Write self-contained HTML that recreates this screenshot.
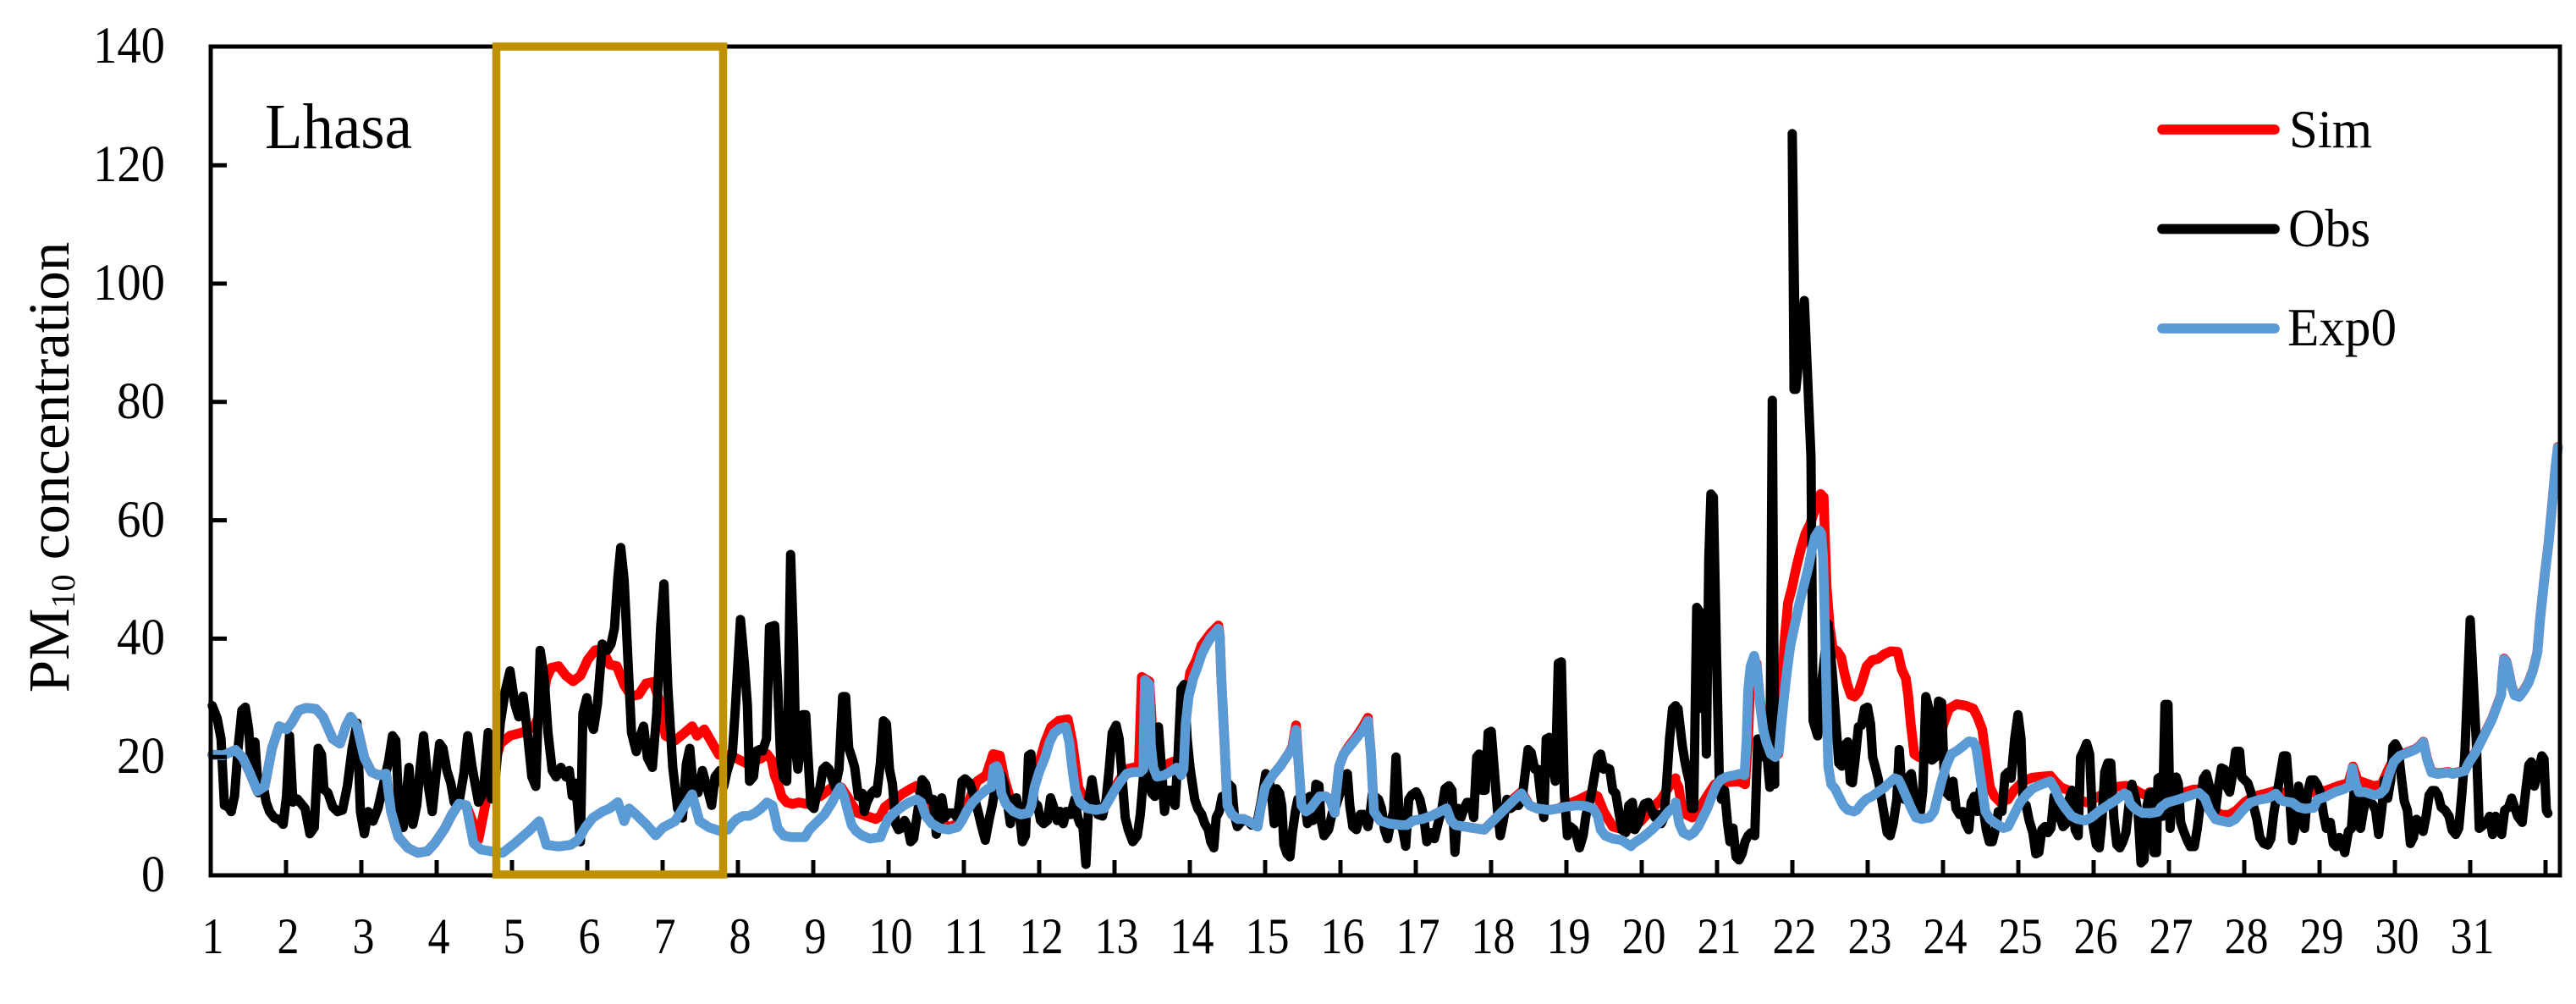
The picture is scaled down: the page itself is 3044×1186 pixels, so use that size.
<!DOCTYPE html>
<html><head><meta charset="utf-8"><style>html,body{margin:0;padding:0;background:#fff}svg{display:block}</style></head>
<body>
<svg xmlns="http://www.w3.org/2000/svg" width="3044" height="1186" viewBox="0 0 3044 1186" font-family="'Liberation Serif','Times New Roman',serif">
<rect width="3044" height="1186" fill="#fff"/>

<!-- Sim (red) -->
<g fill="none" stroke="#FF0000" stroke-linejoin="round" stroke-linecap="round">
<polyline stroke-width="11.5" points="250.8,891.5 264.0,892.2 278.4,885.9 287.0,895.2 295.6,913.9 304.2,934.5 312.8,928.9 321.4,884.0 330.0,857.9 338.6,861.6 344.4,854.1 353.0,839.2 361.6,836.2 373.1,837.3 381.7,846.7 393.2,872.8 401.8,878.4 408.7,857.9 414.4,846.7 421.9,857.9 430.5,895.2 439.1,912.1 447.7,915.8 456.3,913.9 462.1,958.8 470.7,988.7 482.1,1001.7 493.6,1007.4 505.1,1005.5 513.7,996.1 525.2,979.3 533.8,962.5 542.4,949.4 551.0,951.3 559.6,973.7 565.4,991.7 574.0,947.6 582.6,910.2 591.2,878.4 602.7,869.1 617.0,865.3 631.4,857.9 640.0,839.2 645.7,801.8 651.5,788.7 660.1,786.9 668.7,798.1 677.3,804.8 685.9,798.1 694.5,779.4 703.1,768.2 711.7,766.3 720.3,785.0 728.9,786.9 737.6,809.3 746.2,822.4 754.8,820.5 763.4,807.4 772.0,805.5 780.6,831.7 786.4,869.1 797.8,874.7 809.3,865.3 817.9,857.9 823.7,869.1 832.3,861.6 840.9,876.6 849.5,891.5 859.8,892.2"/>
<polyline stroke-width="32.2" transform="translate(860,480) scale(0.357143)" points="0,1160 20,1160 40,1170 60,1180 75,1175 90,1170 110,1165 130,1150 145,1170 155,1220 165,1245 178,1290 195,1310 215,1315 235,1310 260,1315 280,1300 305,1290 325,1275 345,1260 360,1255 375,1260 395,1290 410,1315 430,1345 460,1355 490,1365 505,1355 520,1325 540,1310 560,1295 580,1280 605,1265 625,1255 645,1290 660,1350 700,1385 740,1390 765,1375 795,1310 825,1240 855,1220 878,1150 900,1155 915,1230 935,1300 960,1335 990,1340 1010,1260 1030,1180 1050,1110 1070,1060 1095,1040 1125,1035 1140,1110 1160,1260 1190,1320 1230,1330 1250,1320 1280,1260 1300,1230 1320,1200 1340,1195 1360,1190 1370,895 1395,910 1410,1170 1425,1200 1450,1185 1475,1175 1495,1180 1505,1100 1515,980 1530,880 1550,840 1568,790"/>
<polyline stroke-width="32.2" transform="translate(1420,480) scale(0.357143)" points="0,790 15,770 30,750 55,725 60,760 65,900 75,1100 85,1320 100,1350 120,1365 140,1365 160,1375 185,1390 195,1330 210,1260 235,1220 260,1190 290,1145 300,1125 312,1055 322,1200 330,1320 345,1340 360,1330 375,1310 390,1290 410,1290 425,1300 440,1345 445,1280 455,1190 470,1150 490,1120 510,1095 530,1065 550,1030 560,1150 570,1340 590,1370 620,1380 660,1385 680,1385 700,1370 730,1365 760,1355 790,1340 810,1330 825,1370 840,1385 870,1390 900,1395 935,1400 955,1380 980,1355 1010,1320 1035,1295 1058,1275 1070,1295 1085,1320 1110,1330 1150,1335 1180,1330 1200,1320 1250,1300 1290,1280 1310,1290 1330,1340 1360,1390 1395,1400 1425,1395 1455,1370 1490,1330 1520,1300 1545,1260 1568,1230"/>
<polyline stroke-width="32.2" transform="translate(1980,480) scale(0.357143)" points="0,1240 10,1260 20,1320 35,1350 55,1360 70,1350 85,1320 110,1280 130,1250 150,1245 175,1243 210,1240 230,1250 240,1100 248,880 258,840 268,850 278,960 290,1060 305,1120 320,1150 340,1150 345,1100 360,780 372,650 385,600 400,530 415,470 430,420 445,390 465,330 480,290 490,300 495,460 500,600 510,730 520,800 535,810 548,830 558,880 568,920 580,955 592,960 605,945 620,900 632,860 650,840 670,835 690,820 712,810 735,812 748,870 762,900 770,960 778,1050 790,1150 805,1160 820,1160 845,1140 870,1110 890,1040 905,1000 930,985 960,990 985,1000 1000,1030 1015,1070 1025,1150 1040,1260 1055,1290 1075,1310 1100,1300 1120,1270 1150,1240 1180,1228 1210,1225 1240,1222 1255,1240 1275,1260 1300,1270 1330,1300 1360,1310 1400,1290 1430,1275 1460,1258 1490,1255 1515,1265 1540,1280 1568,1290"/>
<polyline stroke-width="32.2" transform="translate(2484,500) scale(0.357143)" points="157,1220 185,1228 220,1235 260,1225 300,1212 330,1210 350,1245 370,1280 395,1295 420,1295 445,1280 470,1255 500,1235 540,1225 575,1215 600,1222 650,1230 700,1220 740,1215 780,1200 815,1190 830,1135 845,1180 870,1190 900,1200 925,1195 945,1150 965,1110 990,1095 1010,1088 1035,1078 1050,1068 1063,1053 1075,1108 1090,1153 1110,1158 1145,1153 1160,1158 1180,1153 1200,1148 1215,1118 1235,1088 1260,1038 1290,978 1320,898 1325,828 1330,778 1338,788 1345,818 1355,868 1365,898 1380,903 1395,883 1410,858 1425,818 1440,758 1450,638 1465,498 1478,388 1490,258 1500,148 1508,78"/>
</g>

<!-- Obs (black) -->
<g fill="none" stroke="#000" stroke-linejoin="round" stroke-linecap="round">
<polyline stroke-width="11" points="250.8,833.6 256.6,848.5 261.2,872.8 265.2,951.3 269.8,953.2 273.2,958.8 277.2,940.1 281.3,884.0 285.8,839.2 289.9,835.4 293.9,861.6 297.3,913.9 301.3,876.6 305.4,936.4 310.0,921.4 314.5,947.6 318.6,958.8 324.3,966.2 330.0,968.1 334.6,973.7 338.6,940.1 342.1,869.1 346.1,947.6 351.3,943.8 355.9,949.4 360.5,955.0 366.2,984.9 371.4,977.5 376.0,884.0 380.0,891.5 382.8,932.6 387.4,936.4 393.2,953.2 398.9,958.8 404.7,956.9 410.4,928.9 416.1,884.0 421.9,854.1 425.9,958.8 430.5,984.9 435.1,958.8 440.8,970.0 446.6,955.0 453.4,925.1 459.2,899.0 463.8,869.1 467.8,874.7 471.8,970.0 476.4,977.5 483.3,906.5 487.9,973.7 492.5,951.3 496.5,906.5 500.5,869.1 506.2,928.9 510.8,958.8 515.4,913.9 519.5,878.4 523.5,884.0 528.1,910.2 532.7,925.1 536.7,947.6 542.4,947.6 548.1,913.9 552.7,869.1 557.9,906.5 565.4,947.6 571.1,936.4 576.9,865.3 580.9,943.8 585.5,917.7 591.2,854.1 596.9,816.8 602.7,792.5 608.4,831.7 613.0,846.7 618.2,822.4 622.8,861.6 628.5,917.7 633.1,928.9 638.3,768.2 642.9,798.1 647.5,865.3 652.6,910.2 657.2,917.7 662.9,906.5 668.7,917.7 672.7,910.2 676.2,940.1 680.2,925.1 685.9,994.3 688.8,842.9 693.4,824.2 697.4,850.4 701.4,861.6 706.0,831.7 711.7,760.7 717.5,768.2 722.1,760.7 726.1,742.0 730.1,682.2 733.5,646.7 737.6,686.0 742.2,783.1 746.2,865.3 751.9,887.8 756.5,869.1 760.5,857.9 765.1,895.2 770.9,906.5 776.0,842.9 780.6,742.0 784.6,689.7 789.2,813.0 795.0,906.5 800.7,955.0 806.4,966.2 811.0,902.7 815.1,884.0 819.7,936.4 824.8,936.4 830.0,910.2 835.1,928.9 840.9,951.3 844.9,917.7 850.6,910.2 855.2,928.9 859.8,908.3"/>
<polyline stroke-width="30.8" transform="translate(860,480) scale(0.357143)" points="0,1200 15,1150 25,1000 42,705 55,850 65,990 72,1240 85,1225 95,1140 105,1135 115,1140 128,1100 138,730 155,725 165,920 175,1170 185,1230 195,1240 200,990 208,490 218,800 225,1140 232,1200 240,1130 248,1020 258,1020 265,1150 275,1320 285,1330 293,1290 305,1260 315,1200 325,1190 335,1200 345,1230 355,1260 368,1200 380,960 390,960 400,1130 410,1160 420,1195 432,1290 445,1280 452,1340 460,1310 475,1280 485,1270 493,1280 505,1180 515,1040 525,1050 535,1200 545,1250 555,1380 565,1400 575,1395 585,1370 595,1390 605,1440 615,1430 630,1330 643,1235 655,1250 665,1300 680,1300 690,1415 700,1380 708,1295 718,1360 730,1345 745,1345 760,1360 775,1240 785,1232 800,1245 815,1290 828,1340 840,1390 852,1435 865,1365 875,1320 885,1260 895,1215 905,1220 915,1250 925,1310 935,1380 945,1300 955,1295 965,1350 975,1440 985,1420 995,1155 1003,1150 1013,1310 1025,1320 1035,1370 1045,1380 1058,1370 1068,1295 1080,1330 1090,1370 1100,1340 1110,1380 1120,1340 1135,1350 1148,1300 1158,1360 1165,1380 1175,1390 1185,1515 1195,1300 1205,1235 1215,1300 1225,1350 1240,1355 1252,1300 1262,1200 1272,1080 1285,1055 1295,1100 1305,1230 1315,1360 1325,1400 1340,1440 1355,1420 1365,1350 1375,1230 1385,1200 1395,1230 1403,1280 1413,1290 1425,1060 1435,1200 1445,1340 1455,1270 1468,1270 1480,1320 1490,1150 1500,935 1510,920 1520,1100 1530,1200 1545,1300 1555,1330 1568,1350"/>
<polyline stroke-width="30.8" transform="translate(1420,480) scale(0.357143)" points="0,1350 10,1380 22,1400 30,1440 40,1460 48,1360 58,1340 68,1290 78,1300 90,1250 100,1260 108,1350 118,1390 130,1375 142,1370 152,1370 165,1385 175,1380 185,1370 200,1290 212,1215 222,1230 230,1270 240,1380 248,1265 258,1280 265,1320 272,1450 282,1480 292,1490 300,1410 310,1340 318,1300 330,1290 340,1300 350,1380 358,1290 368,1370 378,1250 388,1255 395,1370 405,1420 420,1400 432,1345 445,1320 460,1270 470,1220 482,1215 490,1320 500,1390 512,1400 525,1350 538,1350 550,1390 557,1350 565,1280 572,1290 585,1300 595,1330 605,1400 615,1430 625,1380 635,1340 643,1160 655,1380 665,1400 675,1455 685,1300 695,1285 710,1275 722,1300 735,1360 745,1440 758,1410 770,1430 782,1380 795,1330 805,1265 818,1255 828,1270 838,1475 848,1330 858,1360 868,1330 878,1310 890,1310 900,1360 910,1160 918,1150 928,1270 938,1270 948,1080 958,1075 968,1200 978,1330 988,1420 998,1370 1010,1300 1022,1330 1035,1320 1048,1320 1060,1300 1072,1200 1080,1135 1090,1145 1102,1200 1112,1200 1122,1290 1132,1360 1140,1100 1150,1095 1160,1180 1170,1240 1180,850 1190,845 1200,1280 1210,1420 1220,1390 1232,1400 1240,1420 1250,1460 1262,1420 1272,1350 1282,1320 1295,1250 1310,1160 1320,1150 1330,1200 1340,1195 1350,1200 1360,1270 1370,1280 1380,1340 1390,1400 1403,1410 1413,1320 1425,1310 1433,1400 1445,1380 1455,1340 1465,1315 1478,1310 1490,1340 1500,1360 1510,1350 1520,1380 1530,1360 1538,1250 1548,1100 1558,1000 1568,990"/>
<polyline stroke-width="30.8" transform="translate(1980,480) scale(0.357143)" points="0,995 8,1000 15,1060 22,1120 30,1170 38,1210 45,1240 52,1330 60,1330 70,665 80,680 88,1000 95,740 102,1150 110,500 117,290 125,300 135,800 145,1250 152,1300 162,1270 172,1380 180,1440 190,1395 200,1490 210,1500 220,1480 230,1440 240,1420 250,1410 262,1420 272,1100 282,1100 292,1160 302,1150 312,1260 320,-20 328,1250"/>
<polyline stroke-width="30.8" transform="translate(1980,480) scale(0.357143)" points="392,-56 386,-902 398,-56 426,-350 448,168 455,1040 470,1090 485,900 505,720 520,900 540,1180 550,1190 560,1120 570,1110 578,1240 585,1245 595,1160 605,1060 615,1055 625,1000 635,995 645,1050 652,1160 660,1190 670,1230 680,1290 690,1350 700,1410 710,1420 720,1380 732,1300 740,1135 748,1260 758,1300 768,1230 780,1215 790,1290 800,1330 810,1340 818,1270 828,960 838,1000 848,1170 860,1160 870,975 880,980 888,1200 898,1280 908,1290 918,1240 928,1330 940,1350 950,1340 960,1380 970,1400 978,1310 988,1290 998,1340 1008,1270 1018,1330 1028,1400 1038,1440 1048,1440 1058,1400 1068,1340 1080,1340 1090,1220 1100,1210 1110,1230 1122,1100 1133,1020 1143,1100 1150,1310 1160,1320 1170,1370 1182,1410 1192,1480 1202,1475 1212,1400 1222,1390 1232,1410 1242,1395 1252,1290 1262,1320 1272,1360 1282,1390 1292,1380 1302,1300 1312,1270 1322,1400 1332,1420 1340,1160 1350,1140 1360,1115 1370,1150 1380,1380 1392,1450 1402,1460 1410,1380 1420,1210 1430,1180 1440,1180 1450,1360 1460,1450 1470,1460 1480,1440 1490,1410 1500,1320 1510,1250 1520,1290 1530,1340 1540,1510 1550,1500 1560,1320 1568,1280"/>
<polyline stroke-width="30.8" transform="translate(2484,500) scale(0.357143)" points="157,1224 165,1220 172,1420 180,1420 185,1175 192,1170 200,1300 208,930 218,930 225,1340 235,1190 245,1170 252,1190 260,1320 270,1350 282,1380 292,1400 305,1400 315,1340 325,1260 335,1175 345,1160 355,1200 365,1250 375,1280 385,1200 395,1140 405,1145 412,1200 422,1220 432,1160 442,1085 455,1085 462,1170 472,1180 482,1190 492,1220 502,1270 512,1310 522,1370 535,1390 548,1395 558,1375 568,1290 578,1230 590,1160 600,1100 610,1100 620,1230 630,1380 640,1330 650,1200 660,1300 670,1340 680,1220 690,1180 702,1180 712,1195 722,1220 732,1290 742,1340 755,1320 765,1390 775,1400 785,1370 795,1395 803,1420 815,1350 825,1340 835,1200 845,1230 855,1340 865,1280 875,1230 885,1250 895,1260 905,1280 915,1360 925,1280 935,1180 945,1240 955,1180 962,1070 970,1060 980,1080 990,1170 1000,1250 1010,1280 1020,1390 1030,1370 1040,1310 1052,1320 1062,1350 1072,1300 1082,1230 1092,1215 1102,1215 1112,1230 1122,1270 1135,1280 1148,1300 1158,1345 1170,1360 1180,1340 1190,1230 1200,1100 1210,850 1218,650 1228,850 1238,1050 1248,1340 1260,1330 1272,1320 1282,1300 1292,1360 1302,1300 1312,1340 1322,1360 1332,1280 1345,1270 1355,1240 1365,1270 1375,1300 1390,1320 1400,1230 1412,1130 1420,1120 1430,1200 1442,1160 1455,1100 1462,1110 1470,1280 1475,1290"/>
</g>

<!-- Exp0 (blue) -->
<g fill="none" stroke="#5B9BD5" stroke-linejoin="round" stroke-linecap="round">
<polyline stroke-width="11.5" points="250.8,891.5 264.0,892.2 278.4,885.9 287.0,895.2 295.6,913.9 304.2,934.5 312.8,928.9 321.4,884.0 330.0,857.9 338.6,861.6 344.4,854.1 353.0,839.2 361.6,836.2 373.1,837.3 381.7,846.7 393.2,872.8 401.8,878.4 408.7,857.9 414.4,846.7 421.9,857.9 430.5,895.2 439.1,912.1 447.7,915.8 456.3,913.9 462.1,958.8 470.7,988.7 482.1,1001.7 493.6,1007.4 505.1,1005.5 513.7,996.1 525.2,979.3 533.8,962.5 542.4,949.4 551.0,951.3 559.6,996.1 568.2,1003.6 579.7,1005.5 594.1,1007.4 608.4,996.1 625.6,981.2 637.1,970.0 645.7,998.0 660.1,999.9 674.4,998.0 683.0,992.4 691.6,977.5 700.3,966.2 711.7,958.8 720.3,955.0 730.1,947.6 737.6,970.0 743.3,955.0 751.9,962.5 763.4,973.7 774.9,986.8 783.5,977.5 797.8,970.0 809.3,951.3 817.9,938.2 826.5,970.0 838.0,977.5 849.5,981.2 859.8,980.1"/>
<polyline stroke-width="32.2" transform="translate(860,480) scale(0.357143)" points="0,1400 15,1380 30,1365 50,1355 70,1355 90,1345 110,1330 130,1310 148,1320 155,1350 165,1395 185,1420 210,1425 255,1425 270,1400 290,1380 320,1350 345,1310 360,1280 372,1260 385,1290 395,1330 410,1385 425,1405 445,1420 470,1430 505,1425 515,1400 530,1365 550,1345 575,1325 600,1310 625,1300 640,1310 655,1355 675,1380 700,1395 730,1400 760,1392 775,1370 790,1340 810,1310 835,1285 860,1265 872,1260 880,1195 890,1190 900,1220 905,1280 920,1315 945,1340 970,1350 995,1345 1005,1320 1015,1260 1030,1210 1050,1160 1065,1110 1080,1080 1100,1065 1118,1060 1130,1110 1140,1200 1150,1270 1165,1310 1190,1330 1220,1335 1245,1330 1260,1305 1280,1270 1300,1240 1320,1215 1340,1210 1365,1210 1375,1200 1380,905 1395,920 1400,1120 1408,1195 1420,1225 1445,1220 1470,1205 1485,1195 1500,1220 1508,1200 1515,1050 1525,960 1540,900 1555,860 1568,820"/>
<polyline stroke-width="32.2" transform="translate(1420,480) scale(0.357143)" points="0,820 15,790 30,765 55,735 60,760 65,900 75,1100 85,1320 100,1350 120,1365 140,1365 160,1375 185,1390 195,1330 210,1260 235,1220 260,1190 290,1145 300,1130 312,1070 322,1200 330,1320 345,1340 360,1330 375,1310 390,1290 410,1290 425,1300 440,1345 445,1280 455,1190 470,1150 490,1125 510,1100 530,1075 550,1040 560,1150 570,1340 590,1370 620,1380 660,1385 680,1385 700,1370 730,1365 760,1355 790,1340 810,1330 825,1370 840,1385 870,1390 900,1395 935,1400 955,1380 980,1355 1010,1325 1035,1300 1058,1280 1070,1300 1085,1320 1110,1330 1150,1335 1180,1330 1200,1325 1240,1320 1270,1322 1295,1330 1310,1355 1320,1400 1335,1420 1360,1430 1390,1435 1420,1455 1430,1445 1460,1425 1490,1400 1520,1370 1545,1340 1568,1320"/>
<polyline stroke-width="32.2" transform="translate(1980,480) scale(0.357143)" points="0,1310 12,1380 25,1410 45,1420 60,1410 75,1390 90,1360 105,1330 120,1290 135,1255 150,1235 170,1225 195,1220 215,1215 228,1220 235,1100 240,940 248,860 260,825 270,870 280,990 290,1070 300,1110 315,1150 330,1160 342,1140 350,1050 358,970 368,880 380,790 395,720 410,650 425,590 440,530 452,470 462,430 475,410 482,420 488,500 495,760 500,980 505,1190 515,1250 528,1265 540,1290 555,1320 570,1335 590,1340 600,1335 615,1315 630,1300 650,1290 670,1275 690,1262 708,1245 725,1230 738,1235 750,1260 765,1295 780,1330 795,1360 815,1365 840,1360 855,1340 865,1300 880,1240 895,1190 912,1150 930,1140 950,1125 970,1108 985,1110 995,1130 1005,1200 1015,1270 1025,1340 1040,1365 1060,1380 1085,1395 1100,1390 1120,1350 1140,1310 1160,1285 1180,1265 1200,1255 1225,1245 1240,1240 1255,1265 1270,1300 1290,1330 1310,1355 1330,1365 1355,1370 1375,1360 1400,1340 1430,1320 1460,1300 1485,1280 1495,1285 1505,1315 1525,1335 1545,1345 1568,1345"/>
<polyline stroke-width="32.2" transform="translate(2484,500) scale(0.357143)" points="157,1290 185,1285 195,1270 215,1255 250,1245 280,1235 320,1222 340,1240 355,1280 375,1310 395,1315 420,1320 440,1310 465,1280 490,1255 520,1245 550,1240 575,1225 590,1245 600,1250 630,1255 650,1270 670,1275 700,1272 712,1245 740,1235 770,1220 800,1210 820,1200 828,1140 838,1190 850,1220 870,1220 885,1225 900,1230 920,1225 935,1210 950,1160 965,1120 985,1100 1010,1090 1035,1080 1050,1070 1063,1055 1075,1110 1090,1155 1110,1160 1145,1155 1160,1160 1180,1155 1200,1150 1215,1120 1235,1090 1260,1040 1290,980 1320,900 1325,830 1330,780 1338,790 1345,820 1355,870 1365,900 1380,905 1395,885 1410,860 1425,820 1440,760 1450,640 1465,500 1478,390 1490,260 1500,150 1508,80"/>
</g>

<!-- Axes frame -->
<rect x="249" y="55" width="2776" height="979" fill="none" stroke="#000" stroke-width="5"/>
<path stroke="#000" stroke-width="5" fill="none" d="M249 195.2H268M249 335H268M249 474.8H268M249 614.6H268M249 754.4H268M249 894.2H268
M338 1034V1016M427 1034V1016M516 1034V1016M605 1034V1016M694 1034V1016M783 1034V1016M872 1034V1016M961 1034V1016M1050 1034V1016M1139 1034V1016M1228 1034V1016M1317 1034V1016M1406 1034V1016M1495 1034V1016M1584 1034V1016M1673 1034V1016M1762 1034V1016M1851 1034V1016M1940 1034V1016M2029 1034V1016M2118 1034V1016M2207 1034V1016M2296 1034V1016M2385 1034V1016M2474 1034V1016M2563 1034V1016M2652 1034V1016M2741 1034V1016M2830 1034V1016M2919 1034V1016M3008 1034V1016"/>

<!-- Y tick labels -->
<g font-size="61" text-anchor="end" fill="#000">
<text x="195" y="74" textLength="85" lengthAdjust="spacingAndGlyphs">140</text>
<text x="195" y="214" textLength="85" lengthAdjust="spacingAndGlyphs">120</text>
<text x="195" y="354" textLength="85" lengthAdjust="spacingAndGlyphs">100</text>
<text x="195" y="494" textLength="57" lengthAdjust="spacingAndGlyphs">80</text>
<text x="195" y="634" textLength="57" lengthAdjust="spacingAndGlyphs">60</text>
<text x="195" y="773" textLength="57" lengthAdjust="spacingAndGlyphs">40</text>
<text x="195" y="913" textLength="57" lengthAdjust="spacingAndGlyphs">20</text>
<text x="195" y="1053" textLength="28" lengthAdjust="spacingAndGlyphs">0</text>
</g>

<!-- X tick labels -->
<g font-size="60" text-anchor="middle" fill="#000">
<text x="251.5" y="1126" textLength="26" lengthAdjust="spacingAndGlyphs">1</text>
<text x="340.5" y="1126" textLength="26" lengthAdjust="spacingAndGlyphs">2</text>
<text x="429.5" y="1126" textLength="26" lengthAdjust="spacingAndGlyphs">3</text>
<text x="518.5" y="1126" textLength="26" lengthAdjust="spacingAndGlyphs">4</text>
<text x="607.5" y="1126" textLength="26" lengthAdjust="spacingAndGlyphs">5</text>
<text x="696.5" y="1126" textLength="26" lengthAdjust="spacingAndGlyphs">6</text>
<text x="785.5" y="1126" textLength="26" lengthAdjust="spacingAndGlyphs">7</text>
<text x="874.5" y="1126" textLength="26" lengthAdjust="spacingAndGlyphs">8</text>
<text x="963.5" y="1126" textLength="26" lengthAdjust="spacingAndGlyphs">9</text>
<text x="1052.5" y="1126" textLength="52" lengthAdjust="spacingAndGlyphs">10</text>
<text x="1141.5" y="1126" textLength="52" lengthAdjust="spacingAndGlyphs">11</text>
<text x="1230.5" y="1126" textLength="52" lengthAdjust="spacingAndGlyphs">12</text>
<text x="1319.5" y="1126" textLength="52" lengthAdjust="spacingAndGlyphs">13</text>
<text x="1408.5" y="1126" textLength="52" lengthAdjust="spacingAndGlyphs">14</text>
<text x="1497.5" y="1126" textLength="52" lengthAdjust="spacingAndGlyphs">15</text>
<text x="1586.5" y="1126" textLength="52" lengthAdjust="spacingAndGlyphs">16</text>
<text x="1675.5" y="1126" textLength="52" lengthAdjust="spacingAndGlyphs">17</text>
<text x="1764.5" y="1126" textLength="52" lengthAdjust="spacingAndGlyphs">18</text>
<text x="1853.5" y="1126" textLength="52" lengthAdjust="spacingAndGlyphs">19</text>
<text x="1942.5" y="1126" textLength="52" lengthAdjust="spacingAndGlyphs">20</text>
<text x="2031.5" y="1126" textLength="52" lengthAdjust="spacingAndGlyphs">21</text>
<text x="2120.5" y="1126" textLength="52" lengthAdjust="spacingAndGlyphs">22</text>
<text x="2209.5" y="1126" textLength="52" lengthAdjust="spacingAndGlyphs">23</text>
<text x="2298.5" y="1126" textLength="52" lengthAdjust="spacingAndGlyphs">24</text>
<text x="2387.5" y="1126" textLength="52" lengthAdjust="spacingAndGlyphs">25</text>
<text x="2476.5" y="1126" textLength="52" lengthAdjust="spacingAndGlyphs">26</text>
<text x="2565.5" y="1126" textLength="52" lengthAdjust="spacingAndGlyphs">27</text>
<text x="2654.5" y="1126" textLength="52" lengthAdjust="spacingAndGlyphs">28</text>
<text x="2743.5" y="1126" textLength="52" lengthAdjust="spacingAndGlyphs">29</text>
<text x="2832.5" y="1126" textLength="52" lengthAdjust="spacingAndGlyphs">30</text>
<text x="2921.5" y="1126" textLength="52" lengthAdjust="spacingAndGlyphs">31</text>
</g>

<!-- Y axis title -->
<text transform="translate(81,552) rotate(-90)" text-anchor="middle" font-size="69" fill="#000">PM<tspan font-size="40" dy="7">10</tspan><tspan dy="-7"> concentration</tspan></text>

<!-- Station label -->
<text x="313" y="175" font-size="76" textLength="174" lengthAdjust="spacingAndGlyphs" fill="#000">Lhasa</text>

<!-- Legend -->
<g stroke-width="11.7" stroke-linecap="round">
<line x1="2555" y1="153" x2="2688" y2="153" stroke="#FF0000"/>
<line x1="2555" y1="270.5" x2="2688" y2="270.5" stroke="#000"/>
<line x1="2555" y1="388" x2="2688" y2="388" stroke="#5B9BD5"/>
</g>
<g font-size="64" fill="#000">
<text x="2705" y="174" textLength="98" lengthAdjust="spacingAndGlyphs">Sim</text>
<text x="2704" y="291" textLength="97" lengthAdjust="spacingAndGlyphs">Obs</text>
<text x="2703" y="408" textLength="129" lengthAdjust="spacingAndGlyphs">Exp0</text>
</g>

<!-- Highlight box -->
<rect x="586.5" y="55" width="268" height="978" fill="none" stroke="#BF9000" stroke-width="9.5"/>
</svg>
</body></html>
